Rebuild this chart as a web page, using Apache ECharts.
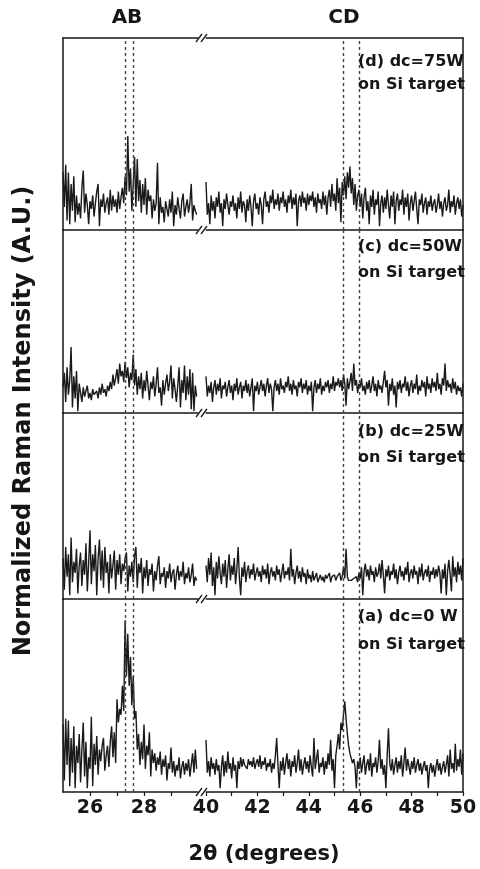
<!DOCTYPE html>
<html><head><meta charset="utf-8">
<script src="https://cdn.jsdelivr.net/npm/echarts@6.0.0/dist/echarts.min.js"></script>
<style>html,body{margin:0;padding:0;background:#fff}#c{width:480px;height:869px}</style>
</head><body><div id="c"></div>
<script>
// ---- data ----
const X_LEFT_START = 25, X_RIGHT_START = 40, X_STEP = 0.05;
const leftRange = [25, 30], rightRange = [40, 50];
const leftTicks = [26, 27, 28, 29], leftLabels = [26, 28];
const rightTicks = [40, 41, 42, 43, 44, 45, 46, 47, 48, 49, 50], rightLabels = [40, 42, 44, 46, 48, 50];
const abLines = [27.3, 27.6];
const cdLines = [45.35, 45.95];
const peakNames = ["AB", "CD"];
const panelLabels = [
  ["(d) dc=75W", "on Si target"],
  ["(c) dc=50W", "on Si target"],
  ["(b) dc=25W", "on Si target"],
  ["(a) dc=0 W", "on Si target"]
];
const xTitle = "2θ (degrees)";
const yTitle = "Normalized Raman Intensity (A.U.)";

const d_left = [30,12,34,5,30,3,24,10,28,4,
18,8,14,6,22,31,9,19,13,3,
15,11,18,7,14,20,24,2,16,12,
19,9,14,17,8,21,10,18,12,16,
9,20,11,17,22,14,28,18,49,20,
32,10,24,38,12,37,15,26,9,24,
13,27,8,21,15,18,6,16,10,14,
35,3,17,9,12,4,15,11,7,16,
9,20,2,13,8,17,11,6,15,19,
7,12,16,9,14,24,5,13,10,8];
const d_right = [25,8,14,3,18,10,15,6,17,12,
20,9,14,2,16,11,19,13,8,15,
12,18,10,14,6,17,11,20,9,15,
13,4,16,10,18,12,2,15,19,11,
14,8,17,13,3,16,20,12,15,9,
18,14,21,11,16,13,19,10,17,14,
20,12,16,9,18,14,21,11,17,13,
19,2,15,18,12,20,14,17,10,19,
13,18,15,20,12,17,9,19,14,16,
11,20,13,18,8,17,21,12,24,15,
19,10,27,14,22,4,25,18,28,16,
30,22,33,19,27,13,24,10,18,21,
12,19,6,17,22,10,15,3,18,12,
21,8,16,13,20,2,14,18,9,17,
11,21,13,6,18,12,20,3,15,19,
10,16,13,21,8,17,12,19,5,14,
18,10,15,20,11,3,16,13,19,9,
14,17,8,15,12,18,10,14,16,9,
13,19,11,15,7,14,17,10,13,21,
9,15,12,18,8,14,17,11,16,7,
13];
const c_left = [14,22,6,25,10,18,36,3,20,8,
23,1,16,11,6,14,9,12,15,8,
11,7,13,10,9,12,8,14,10,16,
11,13,9,15,12,17,13,21,15,19,
24,16,27,20,23,17,28,19,25,14,
22,18,32,15,24,10,20,13,22,8,
18,12,23,15,7,17,13,20,9,16,
25,11,14,4,18,10,16,21,12,17,
26,8,19,13,6,15,25,3,18,11,
26,7,20,10,24,2,22,1,15,9];
const c_right = [20,9,15,11,17,6,14,18,10,16,
12,19,8,15,13,17,9,14,18,11,
15,7,16,12,19,10,14,17,8,15,
12,18,11,16,9,14,19,1,15,12,
17,10,14,18,12,16,9,15,19,11,
16,13,1,14,18,12,16,10,19,13,
15,11,17,14,20,12,16,10,18,13,
15,9,17,14,19,11,16,13,18,10,
15,12,17,1,14,18,11,16,13,19,
10,15,12,17,14,18,11,16,13,20,
12,17,15,19,14,18,12,21,16,4,
19,13,17,22,12,27,15,18,11,16,
14,19,12,15,10,17,13,18,11,15,
20,12,16,9,18,13,15,11,17,23,
14,18,4,16,12,19,10,15,3,17,
13,18,11,16,14,20,12,17,9,15,
18,11,16,13,21,10,15,12,18,14,
17,9,20,13,16,11,19,14,17,12,
22,13,16,10,19,15,27,12,18,14,
16,11,19,13,17,10,15,12,14,9,
16];
const b_left = [22,5,28,12,24,2,33,9,20,14,
27,3,18,25,7,21,13,30,4,19,
37,8,24,15,29,2,22,32,10,26,
6,28,14,20,3,24,11,18,26,5,
21,13,24,8,19,15,22,25,4,18,
12,20,9,23,28,6,19,14,22,3,
17,11,21,7,16,13,19,4,15,10,
18,23,8,14,12,17,6,15,11,19,
9,14,16,5,13,18,10,15,12,20,
8,14,11,17,9,13,19,7,12,10];
const b_right = [18,9,22,13,25,7,17,2,20,11,
23,14,8,19,12,21,6,16,24,10,
18,13,22,8,16,28,11,2,17,12,
20,9,15,18,11,16,13,19,10,14,
17,12,15,9,18,13,16,11,19,8,
14,17,12,15,10,18,13,16,9,14,
19,11,15,13,17,10,27,12,16,8,
14,18,11,15,9,17,12,14,8,16,
11,13,9,15,10,12,14,9,11,13,
10,12,9,13,11,10,14,9,12,11,
13,10,12,11,14,10,12,17,11,27,
12,10,11,10,9,11,10,12,9,14,
11,17,2,15,19,12,16,10,18,13,
15,9,17,12,14,19,11,21,13,3,
16,12,18,10,15,13,19,11,16,8,
14,18,12,15,10,17,13,20,9,14,
16,11,18,13,15,8,17,12,19,10,
14,16,12,18,9,15,13,17,11,16,
12,18,14,3,16,11,19,2,15,21,
13,4,23,12,17,9,20,13,18,10,
22];
const a_left = [35,6,38,14,37,3,28,10,34,2,
24,15,30,5,22,36,8,26,2,18,
12,39,3,25,14,29,9,22,16,24,
28,11,19,24,13,26,34,18,31,15,
48,36,43,40,55,42,89,60,82,55,
70,45,60,38,42,22,30,14,26,17,
35,12,24,19,31,8,22,15,20,11,
18,14,21,9,17,13,19,6,15,12,
23,10,16,8,14,11,18,7,13,16,
9,15,11,17,8,14,20,10,22,12];
const a_right = [27,10,16,8,18,12,15,9,17,11,
14,2,13,19,8,16,10,21,12,15,
7,18,11,14,2,16,12,18,13,17,
14,15,12,17,14,16,13,18,12,15,
17,13,19,12,16,14,18,11,15,13,
17,10,15,12,19,28,14,2,16,11,
18,9,15,20,12,17,8,16,13,19,
10,15,22,11,17,9,14,18,12,16,
10,19,13,8,28,12,17,22,10,15,
13,18,9,16,12,20,14,27,11,17,
2,19,24,30,22,36,32,40,47,38,
30,24,20,19,15,17,13,2,16,12,
18,10,15,19,9,14,17,11,20,8,
15,13,18,10,16,27,12,17,9,14,
2,19,33,15,11,17,9,14,18,10,
16,12,19,8,15,23,11,17,13,9,
16,12,18,10,14,17,11,15,9,13,
16,11,14,2,12,15,10,14,8,13,
17,11,15,9,13,16,10,14,19,8,
22,12,15,10,25,11,17,13,22,9,
20];
const panelData = [[d_left, d_right], [c_left, c_right], [b_left, b_right], [a_left, a_right]];

// ---- layout ----
const panelTops = [38, 230, 413, 599];
const panelHeights = [192, 183, 186, 193];
const L_LEFT = 63, L_WIDTH = 135, R_LEFT = 206, R_WIDTH = 257;
const FONT = "'DejaVu Sans', Verdana, sans-serif";
const INK = '#161616';

function pairs(vals, start) {
  return vals.map((v, i) => [Math.round((start + i * X_STEP) * 100) / 100, v]);
}

const grid = [], xAxis = [], yAxis = [], series = [];
panelData.forEach((pd, p) => {
  const isBottom = p === panelData.length - 1;
  [0, 1].forEach(s => {
    const gi = grid.length;
    grid.push({ left: s === 0 ? L_LEFT : R_LEFT, width: s === 0 ? L_WIDTH : R_WIDTH, top: panelTops[p], height: panelHeights[p] });
    const rng = s === 0 ? leftRange : rightRange;
    xAxis.push({
      type: 'value', gridIndex: gi, min: rng[0], max: rng[1], position: 'bottom',
      axisLine: { show: true, onZero: false, lineStyle: { color: INK, width: 1.5 } },
      axisTick: { show: isBottom, inside: false, length: 4, customValues: s === 0 ? leftTicks : rightTicks, lineStyle: { color: INK, width: 1.2 } },
      axisLabel: { show: isBottom, customValues: s === 0 ? leftLabels : rightLabels, margin: 7, color: INK, fontFamily: FONT, fontWeight: 'bold', fontSize: 19 },
      splitLine: { show: false }
    });
    yAxis.push({
      type: 'value', gridIndex: gi, min: 0, max: 100, position: s === 0 ? 'left' : 'right',
      axisLine: { show: true, onZero: false, lineStyle: { color: INK, width: 1.5 } },
      axisTick: { show: false }, axisLabel: { show: false }, splitLine: { show: false }
    });
    const lines = s === 0 ? abLines : cdLines;
    series.push({
      type: 'line', xAxisIndex: gi, yAxisIndex: gi, showSymbol: false, silent: true,
      data: pairs(pd[s], s === 0 ? X_LEFT_START : X_RIGHT_START),
      lineStyle: { color: '#1a1a1a', width: 1.4 },
      markLine: {
        silent: true, symbol: ['none', 'none'], label: { show: false },
        lineStyle: { color: '#444', type: [3, 3], width: 1.4 },
        data: lines.map(v => ({ xAxis: v }))
      }
    });
  });
});
// top border of the top panel
[0, 1].forEach(gi => {
  xAxis.push({
    type: 'value', gridIndex: gi, min: gi === 0 ? leftRange[0] : rightRange[0], max: gi === 0 ? leftRange[1] : rightRange[1], position: 'top',
    axisLine: { show: true, onZero: false, lineStyle: { color: INK, width: 1.5 } },
    axisTick: { show: false }, axisLabel: { show: false }, splitLine: { show: false }
  });
});

const graphic = [];
// axis break marks
const breakYs = panelTops.concat([panelTops[3] + panelHeights[3]]);
breakYs.forEach(y => {
  graphic.push({ type: 'rect', shape: { x: 198.5, y: y - 3, width: 7, height: 6 }, style: { fill: '#fff' }, z: 100 });
  [196, 201].forEach(x0 => graphic.push({
    type: 'line', shape: { x1: x0, y1: y + 4, x2: x0 + 6, y2: y - 4 },
    style: { stroke: INK, lineWidth: 1.3 }, z: 101
  }));
});
// peak names
const peakCenters = [127, 344];
peakNames.forEach((t, i) => graphic.push({
  type: 'text', x: peakCenters[i], y: 18,
  style: { text: t, font: "bold 20px " + FONT, fill: INK, textAlign: 'center', textVerticalAlign: 'middle' }
}));
// panel labels
const labelYs = [[62, 85], [247, 273], [432, 458], [617, 645]];
panelLabels.forEach((pl, p) => pl.forEach((t, k) => graphic.push({
  type: 'text', x: 358, y: labelYs[p][k], z: 50,
  style: { text: t, font: "bold 16px " + FONT, fill: INK, textAlign: 'left', textVerticalAlign: 'middle' }
})));
// axis titles
graphic.push({
  type: 'text', x: 264, y: 855,
  style: { text: xTitle, font: "bold 21px " + FONT, fill: INK, textAlign: 'center', textVerticalAlign: 'middle' }
});
graphic.push({
  type: 'text', x: 24, y: 421, rotation: Math.PI / 2,
  style: { text: yTitle, font: "bold 24px " + FONT, fill: INK, textAlign: 'center', textVerticalAlign: 'middle' }
});

const chart = echarts.init(document.getElementById('c'), null, { renderer: 'canvas' });
chart.setOption({
  backgroundColor: '#fff',
  animation: false,
  grid, xAxis, yAxis, series, graphic
});
</script>
</body></html>
